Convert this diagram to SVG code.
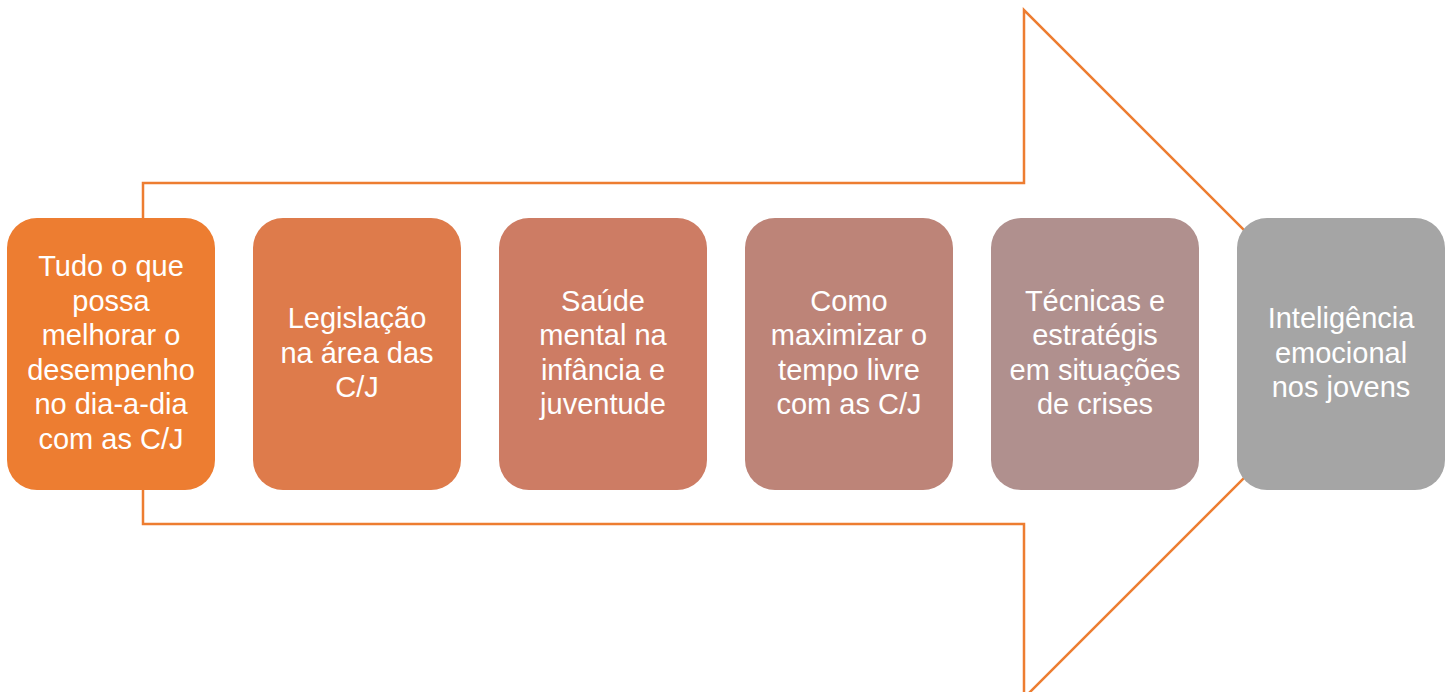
<svg xmlns="http://www.w3.org/2000/svg" width="1451" height="692" viewBox="0 0 1451 692">
<style>
.box{stroke:none}
.t{font-family:"Liberation Sans",Arial,sans-serif;font-size:29px;fill:#ffffff;text-anchor:middle}
.arrow{fill:#ffffff;stroke:#ED7D31;stroke-width:2.5;stroke-linejoin:miter}
</style>
<g id="connectors">
<path class="arrow" d="M143,183 L1024,183 L1024,10 L1368,354 L1024,698 L1024,524 L143,524 Z"/>
</g>
<g id="n1">
<rect class="box" x="7" y="218" width="208" height="272" rx="30" fill="#ED7D31"/>
<text class="t" x="111" y="276">Tudo o que</text>
<text class="t" x="111" y="310.6">possa</text>
<text class="t" x="111" y="345.2">melhorar o</text>
<text class="t" x="111" y="379.8">desempenho</text>
<text class="t" x="111" y="414.4">no dia-a-dia</text>
<text class="t" x="111" y="449">com as C/J</text>
</g>
<g id="n2">
<rect class="box" x="253" y="218" width="208" height="272" rx="30" fill="#DE7B4B"/>
<text class="t" x="357" y="328">Legislação</text>
<text class="t" x="357" y="362.6">na área das</text>
<text class="t" x="357" y="397.2">C/J</text>
</g>
<g id="n3">
<rect class="box" x="499" y="218" width="208" height="272" rx="30" fill="#CD7C64"/>
<text class="t" x="603" y="310.6">Saúde</text>
<text class="t" x="603" y="345.2">mental na</text>
<text class="t" x="603" y="379.8">infância e</text>
<text class="t" x="603" y="414.4">juventude</text>
</g>
<g id="n4">
<rect class="box" x="745" y="218" width="208" height="272" rx="30" fill="#BD8478"/>
<text class="t" x="849" y="310.6">Como</text>
<text class="t" x="849" y="345.2">maximizar o</text>
<text class="t" x="849" y="379.8">tempo livre</text>
<text class="t" x="849" y="414.4">com as C/J</text>
</g>
<g id="n5">
<rect class="box" x="991" y="218" width="208" height="272" rx="30" fill="#B0908E"/>
<text class="t" x="1095" y="310.6">Técnicas e</text>
<text class="t" x="1095" y="345.2">estratégis</text>
<text class="t" x="1095" y="379.8">em situações</text>
<text class="t" x="1095" y="414.4">de crises</text>
</g>
<g id="n6">
<rect class="box" x="1237" y="218" width="208" height="272" rx="30" fill="#A5A5A5"/>
<text class="t" x="1341" y="328">Inteligência</text>
<text class="t" x="1341" y="362.6">emocional</text>
<text class="t" x="1341" y="397.2">nos jovens</text>
</g>
</svg>
